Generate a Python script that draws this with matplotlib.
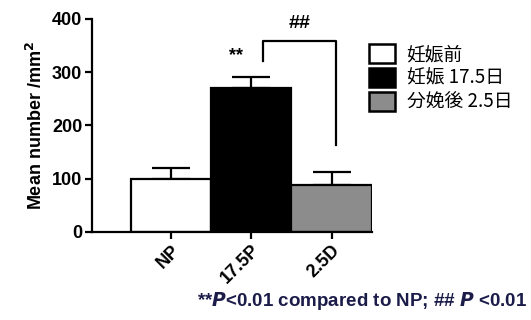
import matplotlib.pyplot as plt
import numpy as np

plt.rcParams['font.family'] = ['Liberation Sans', 'Noto Sans CJK JP', 'DejaVu Sans']

groups = ['NP', '17.5P', '2.5D']
legend_labels = ['妊娠前', '妊娠 17.5日', '分娩後 2.5日']
means = [100, 270, 88]
errors = [20, 21, 25]
colors = ['white', 'black', '#8c8c8c']


def main():
    fig = plt.figure(figsize=(5.31, 3.2), dpi=100)
    ax = fig.add_axes([0.173, 0.275, 0.527, 0.666])

    x = np.arange(len(groups))
    bars = ax.bar(x, means, width=1.0, color=colors, edgecolor='black', linewidth=1.6, zorder=2)
    ax.errorbar(x, means, yerr=[np.zeros(len(errors)), errors], fmt='none', ecolor='black',
                elinewidth=1.6, capsize=14, capthick=1.6, zorder=1)

    ax.set_xlim(-0.985, 2.5)
    ax.set_ylim(0, 400)
    ax.set_yticks([0, 100, 200, 300, 400])
    ax.set_xticks(x)
    ax.set_xticklabels(groups, rotation=45, ha='right', rotation_mode='anchor',
                       fontsize=13, fontweight='bold')
    for lab in ax.get_yticklabels():
        lab.set_fontsize(13)
        lab.set_fontweight('bold')
    ax.set_ylabel('Mean number /mm$^\\mathbf{2}$', fontsize=13, fontweight='bold', labelpad=4)

    for s in ['top', 'right']:
        ax.spines[s].set_visible(False)
    for s in ['left', 'bottom']:
        ax.spines[s].set_linewidth(1.6)
    ax.tick_params(width=1.6, length=5, pad=2)

    # significance marks
    ax.text(0.81, 316, '**', ha='center', va='bottom', fontsize=13, fontweight='bold')
    ax.plot([1.15, 1.15, 2.06, 2.06], [321, 359, 359, 163], color='black', lw=1.6,
            clip_on=False)
    ax.text(1.6, 376, '##', ha='center', va='bottom', fontsize=14, fontweight='bold')

    leg = ax.legend(bars, legend_labels, loc='upper left', bbox_to_anchor=(0.695, 0.8625),
                    bbox_transform=fig.transFigure, frameon=False,
                    borderpad=0, borderaxespad=0,
                    handlelength=1.4, handleheight=1.2, handletextpad=0.6, labelspacing=0.15,
                    prop={'family': ['Noto Sans CJK JP', 'DejaVu Sans'], 'size': 13.5})
    for h in leg.legend_handles:
        h.set_linewidth(1.8)

    fig.text(0.992, 0.06, '**$\\mathbfit{P}$<0.01 compared to NP; ## $\\mathbfit{P}$ <0.01',
             ha='right', va='center', fontsize=13.5, fontweight='bold', color='#1c1c4a')

    fig.savefig('out.png', dpi=100)


if __name__ == '__main__':
    main()
